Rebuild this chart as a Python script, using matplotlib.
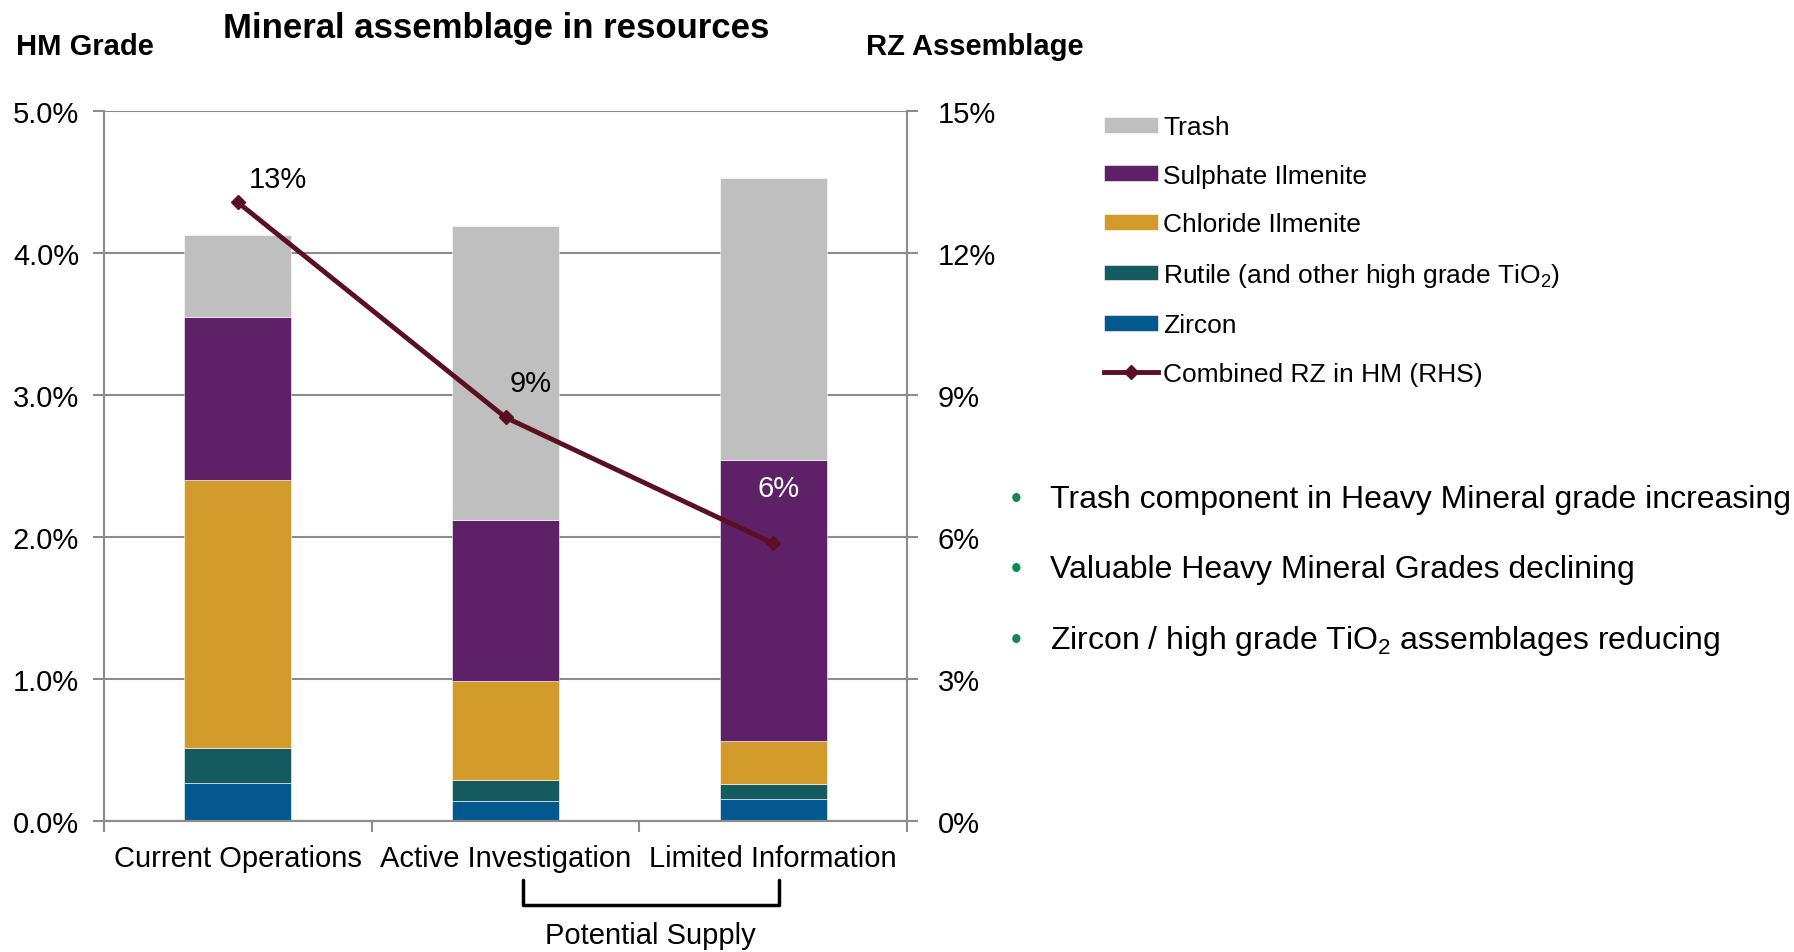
import numpy as np
import matplotlib
matplotlib.use('Agg')
import matplotlib.pyplot as plt
import matplotlib.transforms as mtransforms

plt.rcParams['font.family'] = ['Liberation Sans', 'DejaVu Sans']
plt.rcParams['mathtext.fontset'] = 'custom'
plt.rcParams['mathtext.rm'] = 'Liberation Sans'
plt.rcParams['mathtext.default'] = 'regular'

# Data (HM grade, %)
categories = ['Current Operations', 'Active Investigation', 'Limited Information']
zircon = [0.27, 0.145, 0.16]
rutile = [0.25, 0.145, 0.105]
chloride = [1.88, 0.70, 0.30]
sulphate = [1.15, 1.13, 1.98]
trash = [0.58, 2.07, 1.98]
combined_rz = [13.07, 8.53, 5.87]   # RHS, %
rz_labels = ['13%', '9%', '6%']

series = [
    ('Zircon', zircon, '#02588F'),
    ('Rutile (and other high grade TiO$_2$)', rutile, '#155A5F'),
    ('Chloride Ilmenite', chloride, '#D29B2C'),
    ('Sulphate Ilmenite', sulphate, '#5E2067'),
    ('Trash', trash, '#BFBFBF'),
]

grid_col = '#8C8C8C'
line_col = '#5A0F22'

fig = plt.figure(figsize=(17.94, 9.53), dpi=100)
ax = fig.add_axes([0.058, 0.137, 0.4476, 0.7455])

x = np.arange(len(categories))
bottom = np.zeros(len(categories))
handles = []
for name, vals, col in series:
    b = ax.bar(x, vals, width=0.4, bottom=bottom, color=col, label=name,
               edgecolor='white', linewidth=0.4, zorder=2)
    handles.append(b)
    bottom += np.array(vals)

ax.set_xlim(-0.5, 2.5)
ax.set_ylim(0, 5)
ax.set_yticks(np.arange(0, 6, 1))
ax.set_yticklabels([f'{v:.1f}%' for v in range(6)], fontsize=21)
ax.yaxis.grid(True, color=grid_col, linewidth=1.5, zorder=0)
ax.set_axisbelow(True)
ax.set_xticks(x)
ax.set_xticklabels(categories, fontsize=21)
ax.set_xticks([-0.5, 0.5, 1.5, 2.5], minor=True)
ax.tick_params(axis='x', which='major', length=0, pad=16)
ax.tick_params(axis='x', which='minor', length=8, width=1.5, color=grid_col, direction='out')
ax.tick_params(axis='y', length=8, width=1.5, color=grid_col, pad=10)
for s in ['left', 'right', 'bottom']:
    ax.spines[s].set_color(grid_col)
    ax.spines[s].set_linewidth(1.5)
ax.spines['top'].set_visible(False)

# RHS line
ax2 = ax.twinx()
ln, = ax2.plot(x, combined_rz, color=line_col, linewidth=3.5, marker='D', markersize=7,
               label='Combined RZ in HM (RHS)', zorder=5)
ax2.set_ylim(0, 15)
ax2.set_yticks(np.arange(0, 16, 3))
ax2.set_yticklabels([f'{v}%' for v in range(0, 16, 3)], fontsize=21)
ax2.tick_params(axis='y', length=8, width=1.5, color=grid_col, pad=14)
for s in ['left', 'right', 'bottom']:
    ax2.spines[s].set_color(grid_col)
    ax2.spines[s].set_linewidth(1.5)
ax2.spines['top'].set_visible(False)

label_offsets = [(29, 17), (18, 25), (4, 40)]
label_colors = ['black', 'black', 'white']
for xi, yi, lab, off, c in zip(x, combined_rz, rz_labels, label_offsets, label_colors):
    ax2.annotate(lab, (xi, yi), xytext=off, textcoords='offset points',
                 ha='center', va='center', fontsize=21, color=c)

# Titles
fig.text(0.2765, 0.970, 'Mineral assemblage in resources', ha='center', va='center',
         fontsize=25, fontweight='bold')
fig.text(0.009, 0.951, 'HM Grade', ha='left', va='center', fontsize=21, fontweight='bold')
fig.text(0.4827, 0.951, 'RZ Assemblage', ha='left', va='center', fontsize=21, fontweight='bold')

# Legend
leg_handles = handles[::-1] + [ln]
leg_labels = [h.get_label() for h in leg_handles]
fig.legend(leg_handles, leg_labels, loc='upper left', bbox_to_anchor=(0.602, 0.903),
           frameon=False, fontsize=19, handlelength=2.05, handleheight=0.55,
           handletextpad=0.2, labelspacing=0.93)

# Bracket for potential supply
trans = mtransforms.blended_transform_factory(ax.transData, fig.transFigure)
bx0, bx1 = 1.065, 2.023
by0, by1 = 0.0755, 0.049
ax.plot([bx0, bx0, bx1, bx1], [by0, by1, by1, by0], transform=trans, color='black',
        linewidth=2.5, clip_on=False, solid_joinstyle='round', solid_capstyle='round')
ax.text(1.54, 0.018, 'Potential Supply', transform=trans, ha='center', va='center', fontsize=21)

# Bullets
bullets = ['Trash component in Heavy Mineral grade increasing',
           'Valuable Heavy Mineral Grades declining',
           'Zircon / high grade TiO$_2$ assemblages reducing']
bullet_y = [0.4754, 0.4021, 0.3277]
for txt, by in zip(bullets, bullet_y):
    fig.text(0.5663, by, '\u2022', ha='center', va='center', fontsize=22, color='#0E8A4E')
    fig.text(0.5853, by, txt, ha='left', va='center', fontsize=23)

fig.savefig('out.png', dpi=100)
